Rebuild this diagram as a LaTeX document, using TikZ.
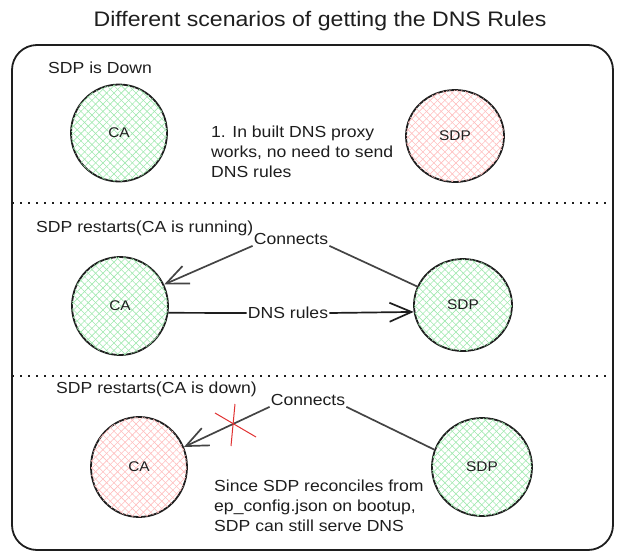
\documentclass[tikz,border=0pt]{standalone}
\usepackage{fontspec}
\setmainfont{Liberation Sans}[FakeStretch=1.1]
\usetikzlibrary{shapes.geometric,patterns.meta,arrows.meta}
\definecolor{ink}{HTML}{1E1E1E}
\definecolor{connc}{HTML}{444444}
\definecolor{hg}{RGB}{160,232,175}
\definecolor{hr}{RGB}{255,190,190}
\definecolor{xred}{HTML}{E03131}
\tikzset{
  fs/.style={font=\fontsize{#1}{20}\selectfont},
  txt/.style={fs=16, text=ink, inner sep=1pt},
  circ/.style={ellipse, draw=ink, line width=1.8pt, inner sep=0pt, text=ink, font=\fontsize{14}{16}\selectfont},
  hatchg/.style={
    postaction={pattern={Lines[angle=45,distance=5.2pt,line width=0.6pt]}, pattern color=hg},
    postaction={pattern={Lines[angle=-45,distance=5.2pt,line width=0.6pt]}, pattern color=hg}},
  hatchr/.style={
    postaction={pattern={Lines[angle=45,distance=5.2pt,line width=0.6pt]}, pattern color=hr},
    postaction={pattern={Lines[angle=-45,distance=5.2pt,line width=0.6pt]}, pattern color=hr}},
  conn/.style={draw=connc, line width=1.7pt},
  arr/.style={-{Straight Barb[length=22pt,width=19pt]}},
  sep/.style={draw=ink, line width=1.8pt, dash pattern=on 1.6pt off 6.4pt},
}
\begin{document}
\begin{tikzpicture}[x=1pt,y=-1pt]
\useasboundingbox (0,0) rectangle (622,560);
% title
\node[font=\fontsize{21}{24}\selectfont, text=ink] (title) at (320,21) {Different scenarios of getting the DNS Rules};
% frame
\draw[ink, line width=1.8pt, rounded corners=25pt] (12,45) rectangle (613,550);
\draw[sep] (12,203) -- (618,203);
\draw[sep] (12,376) -- (618,376);

% section 1
\node[txt, anchor=west] (t1) at (47,68) {SDP is Down};
\node[circ, hatchg, minimum width=96pt, minimum height=97pt] (CA1) at (119,133) {CA};
\node[circ, hatchr, minimum width=98pt, minimum height=92pt] (SDP1) at (455,136) {SDP};
\node[txt, anchor=west, align=left] (n1) at (210,152) {1. In built DNS proxy\\works, no need to send\\DNS rules};

% section 2
\node[txt, anchor=west] (t2) at (35,228) {SDP restarts(CA is running)};
\node[circ, hatchg, minimum width=96pt, minimum height=98pt] (CA2) at (120,306) {CA};
\node[circ, hatchg, minimum width=98pt, minimum height=92pt] (SDP2) at (463,305) {SDP};
\node[txt] (c2) at (291,239) {Connects};
\node[txt] (d2) at (288,313) {DNS rules};
\draw[ink, line width=1.7pt] (CA2.-8) -- (d2.west);
\draw[ink, line width=1.7pt, arr] (d2.east) -- (SDP2.-172);
\draw[conn] (SDP2.158) -- (c2.south east);
\draw[conn, arr] (c2.south west) -- (CA2.26);

% section 3
\node[txt, anchor=west] (t3) at (55,389) {SDP restarts(CA is down)};
\node[circ, hatchr, minimum width=96pt, minimum height=100pt] (CA3) at (139,467) {CA};
\node[circ, hatchg, minimum width=100pt, minimum height=98pt] (SDP3) at (482,467) {SDP};
\node[txt] (c3) at (308,400) {Connects};
\draw[conn] (SDP3.160) -- (c3.south east);
\draw[conn, arr] (c3.south west) -- (CA3.24);
\coordinate (x1) at (215,413);
\coordinate (x2) at (256,437);
\coordinate (x3) at (235,404);
\coordinate (x4) at (231,446);
\draw[xred, line width=1pt] (x1) -- (x2);
\draw[xred, line width=1pt] (x3) -- (x4);
\node[txt, anchor=west, align=left] (n3) at (213,506) {Since SDP reconciles from\\ep\_config.json on bootup,\\SDP can still serve DNS};
\end{tikzpicture}
\end{document}
